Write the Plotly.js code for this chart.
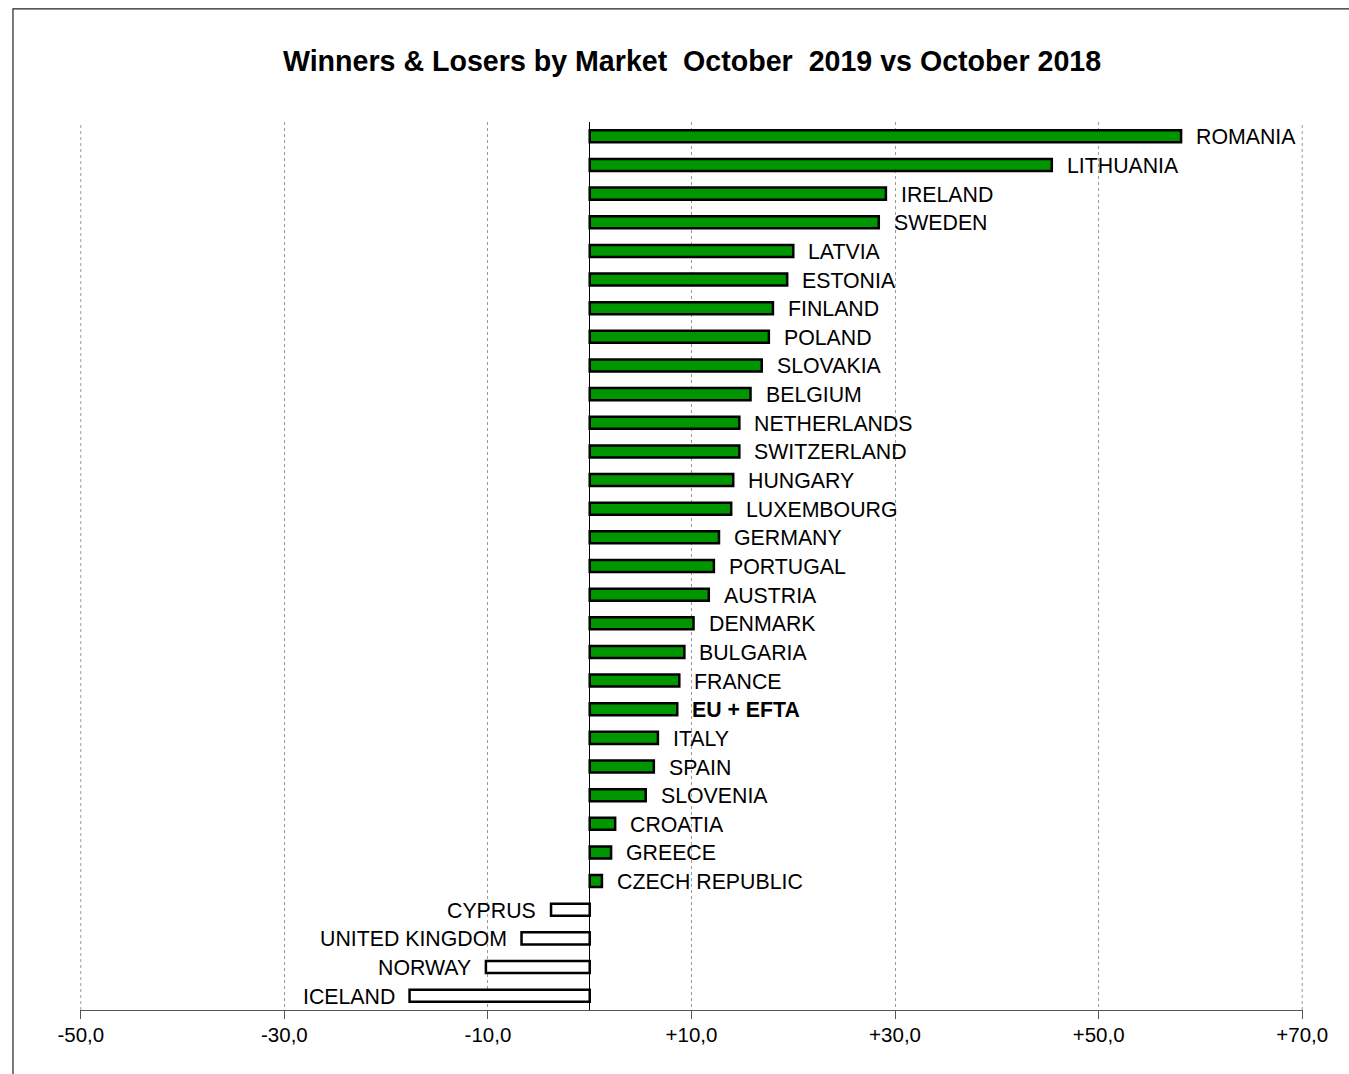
<!DOCTYPE html>
<html>
<head>
<meta charset="utf-8">
<script src="https://cdn.plot.ly/plotly-3.0.1.min.js"></script>
<style>html,body{margin:0;padding:0;background:#fff;}</style>
</head>
<body>
<div id="chart" style="width:1349px;height:1074px;"></div>
<script>
const markets = ["ROMANIA","LITHUANIA","IRELAND","SWEDEN","LATVIA","ESTONIA","FINLAND","POLAND","SLOVAKIA","BELGIUM","NETHERLANDS","SWITZERLAND","HUNGARY","LUXEMBOURG","GERMANY","PORTUGAL","AUSTRIA","DENMARK","BULGARIA","FRANCE","EU + EFTA","ITALY","SPAIN","SLOVENIA","CROATIA","GREECE","CZECH REPUBLIC","CYPRUS","UNITED KINGDOM","NORWAY","ICELAND"];
const changes = [58.1,45.4,29.1,28.4,20.0,19.4,18.0,17.6,16.9,15.8,14.7,14.7,14.1,13.9,12.7,12.2,11.7,10.2,9.3,8.8,8.6,6.7,6.3,5.5,2.5,2.1,1.2,-3.8,-6.7,-10.2,-17.7];
const tickValues = [-50,-30,-10,10,30,50,70];
const tickLabels = ["-50,0","-30,0","-10,0","+10,0","+30,0","+50,0","+70,0"];
const totalLabel = "EU + EFTA";

const colors = changes.map(v => v >= 0 ? "#009600" : "#ffffff");
const FONT = "Liberation Sans, Arial, sans-serif";

const trace = {
  type: "bar",
  orientation: "h",
  y: markets,
  x: changes,
  width: 0.42,
  marker: {color: colors, line: {color: "#000000", width: 2.5}},
  hoverinfo: "x+y",
  showlegend: false
};

const annotations = markets.map((m, i) => {
  const v = changes[i];
  const pos = v >= 0;
  return {
    x: v, y: m, xref: "x", yref: "y",
    text: m === totalLabel ? "<b>" + m + "</b>" : m,
    showarrow: false,
    xanchor: pos ? "left" : "right",
    xshift: pos ? 13 : -13,
    yshift: -1,
    yanchor: "middle",
    font: {family: FONT, size: 21.3, color: "#000"}
  };
});

const xMin = tickValues[0], xMax = tickValues[tickValues.length - 1];
const edgeGrid = [xMin, xMax].map(v => ({
  type: "line", xref: "x", yref: "paper", x0: v, x1: v, y0: 0, y1: 1,
  line: {color: "#999", width: 1, dash: "dot"}, layer: "below"
}));

const layout = {
  width: 1349, height: 1074,
  margin: {l: 80, r: 46, t: 122, b: 64},
  paper_bgcolor: "#ffffff",
  plot_bgcolor: "#ffffff",
  title: {
    text: "<b>Winners &amp; Losers by Market \u00a0October \u00a02019 vs October 2018</b>",
    x: 0.513, xanchor: "center", y: 0.943, yanchor: "middle",
    font: {family: FONT, size: 28.6, color: "#000"}
  },
  xaxis: {
    range: [xMin - 0.08, xMax + 0.08],
    tickvals: tickValues,
    ticktext: tickLabels,
    ticks: "outside", ticklen: 8, tickcolor: "#555", tickwidth: 1,
    showline: true, linecolor: "#555", linewidth: 1,
    showgrid: true, gridcolor: "#999", griddash: "dot", gridwidth: 1,
    zeroline: true, zerolinecolor: "#000", zerolinewidth: 1.5,
    tickfont: {family: FONT, size: 20.5, color: "#000"},
    ticklabelstandoff: -2,
    fixedrange: true
  },
  yaxis: {
    type: "category",
    categoryorder: "array", categoryarray: markets,
    range: [30.5, -0.5],
    showticklabels: false, ticks: "", showgrid: false, zeroline: false, showline: false,
    fixedrange: true
  },
  annotations: annotations,
  shapes: [{
    type: "rect", xref: "paper", yref: "paper",
    x0: -0.0548, x1: 1.1, y0: -0.2, y1: 1.1273,
    line: {color: "#222", width: 1.2}, fillcolor: "rgba(0,0,0,0)", layer: "below"
  }].concat(edgeGrid),
  bargap: 0.5
};

Plotly.newPlot("chart", [trace], layout, {displayModeBar: false, staticPlot: true});
</script>
</body>
</html>
